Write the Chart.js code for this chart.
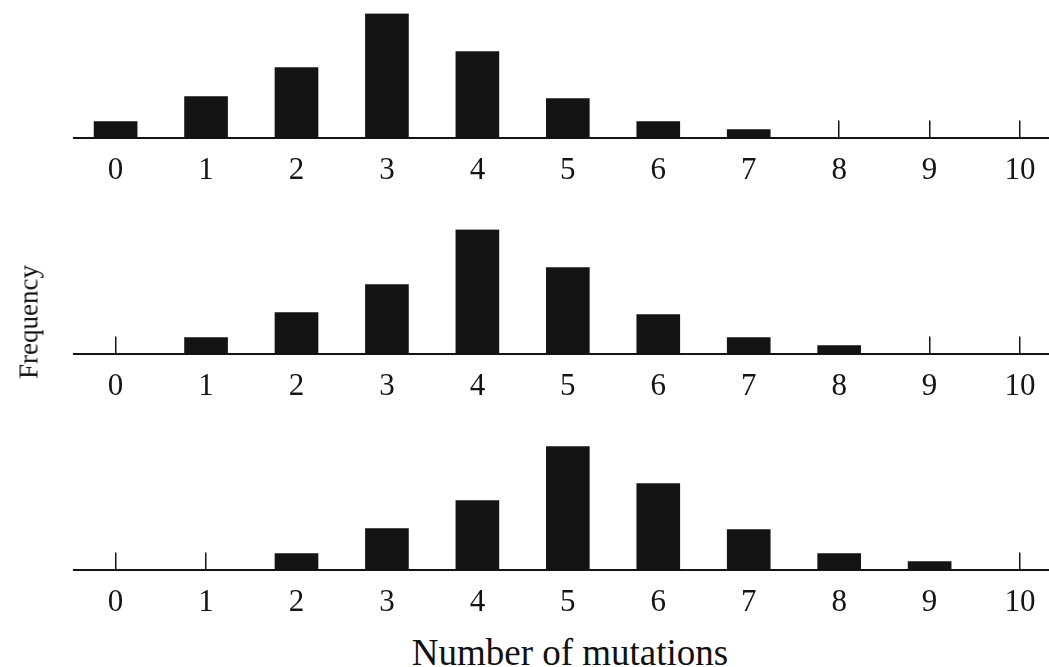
<!DOCTYPE html>
<html>
<head>
<meta charset="utf-8">
<title>Number of mutations</title>
<script src="https://cdn.jsdelivr.net/npm/chart.js@4.4.1/dist/chart.umd.min.js"></script>
<style>
  html, body { margin: 0; padding: 0; background: #fff; }
  body {
    width: 1049px; height: 667px; position: relative; overflow: hidden;
    font-family: "Liberation Serif", "DejaVu Serif", serif; color: #111;
  }
  .panel { position: absolute; left: 0; }
  #freqLabel {
    position: absolute; left: 29px; top: 322px;
    transform: translate(-50%, -50%) rotate(-90deg);
    font-size: 27px; line-height: 27px; white-space: nowrap;
  }
  #xTitle {
    position: absolute; left: 570px; top: 634px;
    transform: translateX(-50%);
    font-size: 37px; line-height: 37px; white-space: nowrap;
  }
</style>
</head>
<body>
<canvas id="panelTop" class="panel" width="1049" height="190" style="top:0px"></canvas>
<canvas id="panelMiddle" class="panel" width="1049" height="190" style="top:216px"></canvas>
<canvas id="panelBottom" class="panel" width="1049" height="190" style="top:432px"></canvas>
<div id="freqLabel">Frequency</div>
<div id="xTitle">Number of mutations</div>

<script>
// number of mutations on the x axis, shared by all three panels
const mutations = [0, 1, 2, 3, 4, 5, 6, 7, 8, 9, 10];

// frequency per mutation count (each distribution totals about 400)
const freqTop    = [16, 41, 70, 124, 86, 39, 16, 8, 0, 0, 0];
const freqMiddle = [0, 16, 41, 69, 124, 86, 39, 16, 8, 0, 0];
const freqBottom = [0, 0, 16, 41, 69, 123, 86, 40, 16, 8, 0];

const freqMax = 124;

const ink = '#141414';
const serif = '"Liberation Serif", "DejaVu Serif", serif';

function drawPanel(canvasId, values) {
    const ctx = document.getElementById(canvasId).getContext('2d');

    new Chart(ctx, {
        type: 'bar',
        data: {
            datasets: [{
                data: mutations.map((m, i) => ({ x: m, y: values[i] })),
                backgroundColor: ink,
                borderWidth: 0,
                barThickness: 43
            }]
        },
        options: {
            responsive: false,
            animation: false,
            layout: { padding: { top: 13.5, left: 74, right: 0, bottom: 0 } },
            plugins: {
                legend: { display: false },
                tooltip: { enabled: false }
            },
            scales: {
                x: {
                    type: 'linear',
                    min: -0.46,
                    max: 10.32,
                    offset: false,
                    // one tick per mutation count, nothing at the range ends
                    afterBuildTicks: scale => {
                        scale.ticks = mutations.map(v => ({ value: v }));
                    },
                    // fixed axis height, and let the axis line run to the edge
                    afterFit: scale => {
                        scale.height = 52.5;
                        scale.paddingLeft = 0;
                        scale.paddingRight = 0;
                    },
                    // short tick marks standing up from the axis line,
                    // only where there is no bar on top of them
                    grid: {
                        offset: false,
                        drawOnChartArea: false,
                        drawTicks: true,
                        tickLength: -17,
                        color: c => (values[c.index] > 0 ? 'rgba(0,0,0,0)' : ink),
                        lineWidth: 1.5
                    },
                    border: { display: true, color: ink, width: 2 },
                    ticks: {
                        padding: 32,
                        color: ink,
                        maxRotation: 0,
                        autoSkip: false,
                        font: { family: serif, size: 31 }
                    }
                },
                y: { display: false, min: 0, max: freqMax }
            }
        }
    });
}

drawPanel('panelTop', freqTop);
drawPanel('panelMiddle', freqMiddle);
drawPanel('panelBottom', freqBottom);
</script>
</body>
</html>
